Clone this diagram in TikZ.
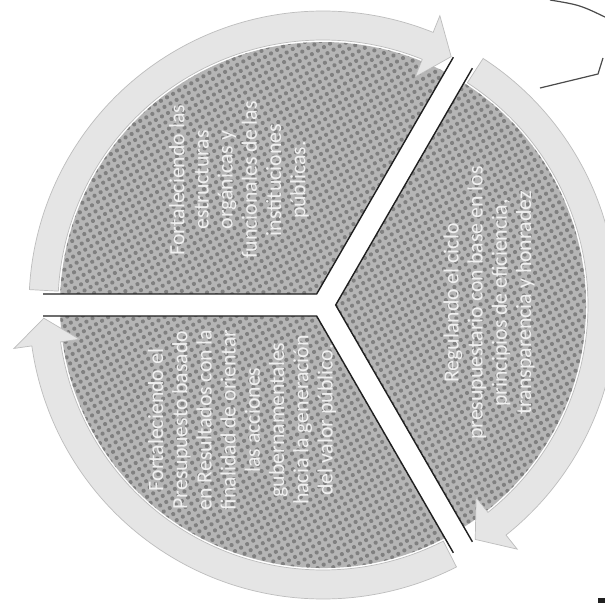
\documentclass[tikz,border=0pt]{standalone}
\usepackage{fontspec}
\setmainfont{Carlito}
\usetikzlibrary{patterns.meta}
\tikzdeclarepattern{
  name=halftone,
  type=uncolored,
  bounding box={(-1.75pt,-1.75pt) and (1.75pt,1.75pt)},
  tile size={(3.5pt,3.5pt)},
  tile transformation={rotate=30},
  code={\fill (0pt,0pt) circle (1.05pt);}
}
\definecolor{wedgebase}{gray}{0.71}
\definecolor{wedgedot}{gray}{0.50}
\definecolor{ringfill}{gray}{0.90}
\definecolor{ringline}{gray}{0.74}
\definecolor{txt}{gray}{0.94}
\definecolor{inkline}{gray}{0.12}
\begin{document}
\begin{tikzpicture}[x=0.5pt,y=0.5pt,
  wedgefill/.style={fill=wedgebase},
  wedgedots/.style={pattern=halftone, pattern color=wedgedot},
  ringarrow/.style={fill=ringfill, draw=ringline, line width=0.35pt},
  edgeline/.style={draw=inkline, line width=0.7pt, line join=miter},
  fragment/.style={draw=inkline!80, line width=0.6pt},
  labeltext/.style={rotate=90, align=center, text=txt, inner sep=0pt,
    font=\fontsize{10.9}{12.1}\selectfont}]
\path[fill=white] (-323,305) rectangle (282,-301);
\useasboundingbox (-323,305) rectangle (282,-301);
\clip (-323,305) rectangle (282,-301);

% wedges
\foreach \c/\a/\b in {120/177.6/62.4, 0/57.6/-57.6, 240/297.6/182.4}{
  \path[wedgefill] (\c:12.7) -- (\a:263) arc[start angle=\a, end angle=\b, radius=263] -- cycle;
  \path[wedgedots] (\c:12.7) -- (\a:263) arc[start angle=\a, end angle=\b, radius=263] -- cycle;
}

% circular arrows: start angle / head base / tip
\foreach \s/\h/\t in {177/68/62.7, 57/-51.5/-57, 297/188/182.7}{
  \path[ringarrow] (\s:265) -- (\s:294) arc[start angle=\s, end angle=\h, radius=294]
    -- (\h:312) -- (\t:279.5) -- (\h:246) -- (\h:265)
    arc[start angle=\h, end angle=\s, radius=265] -- cycle;
}

% outlines of the wedges' straight edges
\draw[edgeline] (177.75:280) -- (120:12.7) -- (62.25:280);
\draw[edgeline] (57.75:280) -- (0:12.7) -- (-57.75:280);
\draw[edgeline] (182.25:280) -- (240:12.7) -- (297.75:280);

% labels
\node[labeltext] (t1) at (-84,125) {Fortaleciendo las\\estructuras\\orgánicas y\\funcionales de las\\instituciones\\públicas.};
\node[labeltext] (t2) at (166,2) {Regulando el ciclo\\presupuestario con base en los\\principios de eficiencia,\\transparencia y honradez};
\node[labeltext] (t3) at (-81,-115) {Fortaleciendo el\\Presupuesto basado\\en Resultados con la\\finalidad de orientar\\las acciones\\gubernamentales\\hacia la generación\\del valor público.};

% fragments at the picture's edge
\draw[fragment] (227,305) .. controls (257,300) .. (284,287);
\draw[fragment] (217,217) -- (275,231) -- (280,247);
\fill[inkline] (275,-293) rectangle (282,-298);
\end{tikzpicture}
\end{document}
